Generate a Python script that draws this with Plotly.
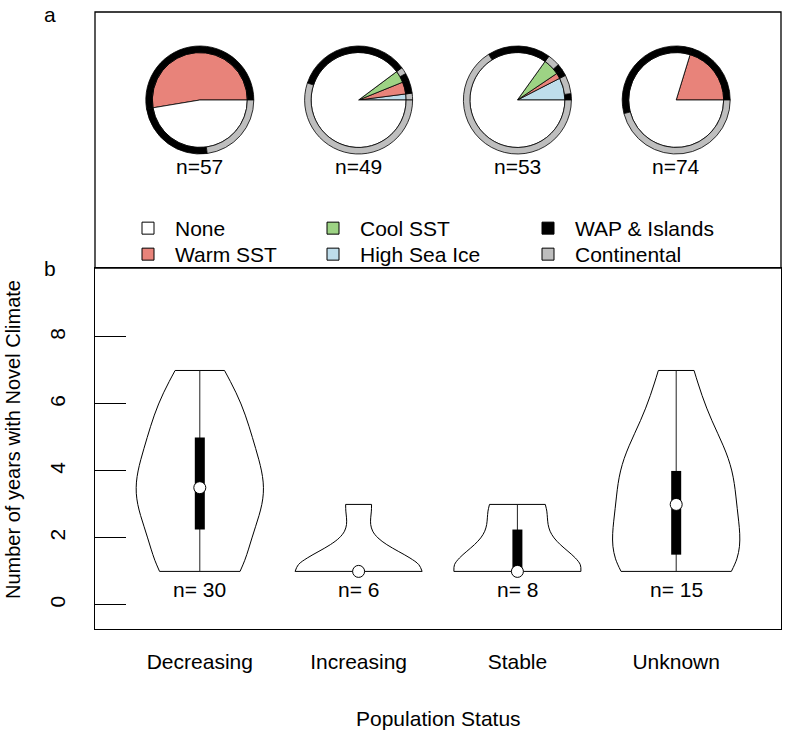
import numpy as np
import plotly.graph_objects as go

# ---------------- data ----------------
status = ["Decreasing", "Increasing", "Stable", "Unknown"]

# number of years with novel climate, one value per population
years_decreasing = [1, 1, 1, 1, 1, 1, 2, 2, 3, 3, 3, 3, 3, 3, 3,
                    4, 4, 4, 4, 4, 5, 5, 5, 5, 6, 6, 6, 6, 7, 7]
years_increasing = [1, 1, 1, 1, 1, 3]
years_stable = [1, 1, 1, 1, 1, 2, 3, 3]
years_unknown = [1, 1, 1, 1, 2, 2, 2, 3, 4, 4, 4, 4, 5, 6, 7]

# panel a: pies (one per population status)
pie_n = [57, 49, 53, 74]
sst_classes = ["High Sea Ice", "Warm SST", "Cool SST", "None"]
sst_counts = [
    [0, 30, 0, 27],
    [1, 2, 2, 44],
    [4, 1, 3, 45],
    [0, 15, 0, 59],
]
# split of each SST class into regions (outer ring)
wap_counts = [
    [0, 30, 0, 14],
    [0, 2, 1, 17],
    [1, 1, 1, 10],
    [0, 15, 0, 25],
]
cont_counts = [
    [0, 0, 0, 13],
    [1, 0, 1, 27],
    [3, 0, 2, 35],
    [0, 0, 0, 34],
]

legend_items = ["None", "Warm SST", "Cool SST", "High Sea Ice", "WAP & Islands", "Continental"]

y_ticks = [0, 2, 4, 6, 8]

colors = {
    "None": "#FFFFFF",
    "Warm SST": "#E8837A",
    "Cool SST": "#9DD384",
    "High Sea Ice": "#BEDDEB",
    "WAP & Islands": "#000000",
    "Continental": "#BEBEBE",
}

# ---------------- layout geometry (page pixels) ----------------
W, H = 787, 734
BOX_L, BOX_R, BOX_T, BOX_B = 95, 781, 12, 629
ML, MT = BOX_L, BOX_T
MR, MB = W - BOX_R, H - BOX_B
PW = BOX_R - BOX_L
PH = BOX_B - BOX_T
SPLIT_PX = 268
B_TOP = (BOX_B - SPLIT_PX) / PH
X_RANGE = [-0.66, 3.66]
Y_RANGE = [-0.72, 10.06]
FONT = "Liberation Sans, Arial, Helvetica, sans-serif"
FS = 21

def xfrac(pos):
    return (pos - X_RANGE[0]) / (X_RANGE[1] - X_RANGE[0])

def xfrac_px(px):
    return (px - BOX_L) / PW

def yfrac_px(py):
    return (BOX_B - py) / PH

fig = go.Figure()

# ---------------- panel b: violins ----------------
years_by_status = [years_decreasing, years_increasing, years_stable, years_unknown]
for name, vals in zip(status, years_by_status):
    v = np.array(vals, dtype=float)
    bw = v.std(ddof=1) * (4.0 / (3.0 * len(v))) ** 0.2
    fig.add_trace(go.Violin(
        x=[name] * len(v), y=v, bandwidth=bw, spanmode="hard",
        width=0.8, scalemode="width", points=False,
        box_visible=False, meanline_visible=False,
        line=dict(color="black", width=1), fillcolor="white",
        showlegend=False, hoverinfo="skip"))
    q1, med, q3 = np.percentile(v, [25, 50, 75])
    iqr = q3 - q1
    lo = max(q1 - 1.5 * iqr, v.min())
    hi = min(q3 + 1.5 * iqr, v.max())
    fig.add_trace(go.Scatter(x=[name, name], y=[lo, hi], mode="lines",
                             line=dict(color="#222", width=1),
                             showlegend=False, hoverinfo="skip"))
    fig.add_trace(go.Scatter(x=[name, name], y=[q1, q3], mode="lines",
                             line=dict(color="black", width=10),
                             showlegend=False, hoverinfo="skip"))
    fig.add_trace(go.Scatter(x=[name], y=[med], mode="markers",
                             marker=dict(color="white", size=12,
                                         line=dict(color="black", width=1)),
                             showlegend=False, hoverinfo="skip"))
    fig.add_annotation(x=name, y=0.45, text="n= %d" % len(v), showarrow=False,
                       xanchor="center", yanchor="middle",
                       font=dict(size=FS, color="black", family=FONT))

# ---------------- panel a: pies ----------------
R_OUT, R_IN = 54, 47.5
PIE_CY = 100

def start_at_3_oclock(vals):
    # plotly puts the first counter-clockwise slice clockwise of `rotation`
    return 90 - 360.0 * vals[0] / sum(vals)

for i in range(4):
    cx = xfrac(i)
    cy = yfrac_px(PIE_CY)
    labs, vals, cols = [], [], []
    for k, c in enumerate(sst_classes):
        if sst_counts[i][k] > 0:
            labs.append(c)
            vals.append(sst_counts[i][k])
            cols.append(colors[c])
    fig.add_trace(go.Pie(
        labels=labs, values=vals, sort=False, direction="counterclockwise",
        rotation=start_at_3_oclock(vals), textinfo="none", hoverinfo="label+value",
        marker=dict(colors=cols, line=dict(color="black", width=0.8)),
        domain=dict(x=[cx - R_IN / PW, cx + R_IN / PW],
                    y=[cy - R_IN / PH, cy + R_IN / PH]),
        showlegend=False))
    labs, vals, cols = [], [], []
    for k, c in enumerate(sst_classes):
        if wap_counts[i][k] > 0:
            labs.append("WAP & Islands / " + c)
            vals.append(wap_counts[i][k])
            cols.append(colors["WAP & Islands"])
        if cont_counts[i][k] > 0:
            labs.append("Continental / " + c)
            vals.append(cont_counts[i][k])
            cols.append(colors["Continental"])
    fig.add_trace(go.Pie(
        labels=labs, values=vals, sort=False, direction="counterclockwise",
        rotation=start_at_3_oclock(vals), textinfo="none", hole=R_IN / R_OUT,
        hoverinfo="label+value",
        marker=dict(colors=cols, line=dict(color="black", width=0.8)),
        domain=dict(x=[cx - R_OUT / PW, cx + R_OUT / PW],
                    y=[cy - R_OUT / PH, cy + R_OUT / PH]),
        showlegend=False))
    fig.add_annotation(xref="paper", yref="paper", x=cx, y=yfrac_px(167),
                       text="n=%d" % pie_n[i], showarrow=False,
                       xanchor="center", yanchor="middle",
                       font=dict(size=FS, color="black", family=FONT))

# ---------------- legend (one legend box per entry: 3 columns x 2 rows) ----------------
LEG_COL_LEFT = [121, 306, 521]
LEG_ROW_TOP = [208, 234]
legend_layout = {}
for j, nm in enumerate(legend_items):
    key = "legend" if j == 0 else "legend%d" % (j + 1)
    fig.add_trace(go.Scatter(
        x=[None], y=[None], mode="markers", name=nm, legend=key,
        marker=dict(symbol="square", size=12, color=colors[nm],
                    line=dict(color="black", width=1))))
    legend_layout[key] = dict(
        x=xfrac_px(LEG_COL_LEFT[j // 2]), xanchor="left",
        y=yfrac_px(LEG_ROW_TOP[j % 2]), yanchor="top",
        orientation="v", bgcolor="rgba(0,0,0,0)", borderwidth=0, itemwidth=44,
        font=dict(size=FS, color="black", family=FONT),
        itemclick=False, itemdoubleclick=False)

# ---------------- axes & layout ----------------
fig.update_layout(
    width=W, height=H,
    margin=dict(l=ML, r=MR, t=MT, b=MB, autoexpand=False),
    paper_bgcolor="white", plot_bgcolor="white",
    font=dict(family=FONT, size=FS, color="black"),
    violinmode="overlay",
    xaxis=dict(domain=[0, 1], range=X_RANGE, type="category",
               categoryorder="array", categoryarray=status,
               showline=True, mirror=True, linecolor="black", linewidth=1.3,
               ticks="", showgrid=False, zeroline=False, ticklabelstandoff=14,
               tickfont=dict(size=FS, family=FONT, color="black")),
    yaxis=dict(domain=[0, B_TOP], range=Y_RANGE, tickvals=y_ticks,
               showline=True, mirror=True, linecolor="black", linewidth=1.3,
               ticks="inside", ticklen=31, tickwidth=1, tickcolor="black",
               tickangle=-90, ticklabelstandoff=20,
               showgrid=False, zeroline=False,
               tickfont=dict(size=FS, family=FONT, color="black")),
    showlegend=True,
    **legend_layout,
)

# panel a frame
fig.add_shape(type="rect", xref="paper", yref="paper", x0=0, x1=1, y0=B_TOP, y1=1,
              line=dict(color="black", width=1.3), fillcolor="rgba(0,0,0,0)", layer="below")

# titles and panel letters
fig.add_annotation(xref="paper", yref="paper", x=xfrac_px(438), y=yfrac_px(718),
                   text="Population Status", showarrow=False,
                   xanchor="center", yanchor="middle",
                   font=dict(size=FS, family=FONT, color="black"))
fig.add_annotation(xref="paper", yref="paper", x=xfrac_px(13), y=yfrac_px(440),
                   text="Number of years with Novel Climate", textangle=-90, showarrow=False,
                   xanchor="center", yanchor="middle",
                   font=dict(size=20, family=FONT, color="black"))
fig.add_annotation(xref="paper", yref="paper", x=xfrac_px(50), y=yfrac_px(14),
                   text="a", showarrow=False, xanchor="center", yanchor="middle",
                   font=dict(size=FS, family=FONT, color="black"))
fig.add_annotation(xref="paper", yref="paper", x=xfrac_px(50), y=yfrac_px(268),
                   text="b", showarrow=False, xanchor="center", yanchor="middle",
                   font=dict(size=FS, family=FONT, color="black"))

# the page is shown edge-to-edge: drop the default 8px body margin
fig.write_html("out.html", config={"displayModeBar": False},
               post_script="document.body.style.margin='0px';")
